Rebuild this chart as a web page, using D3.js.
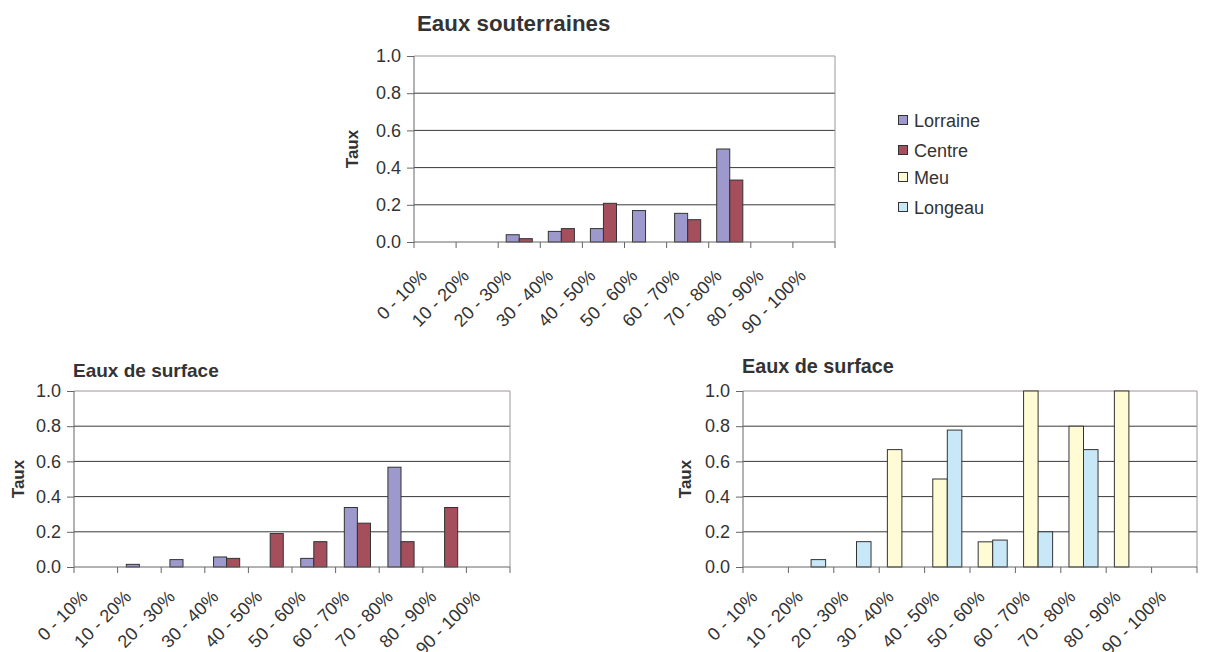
<!DOCTYPE html>
<html>
<head>
<meta charset="utf-8">
<script src="https://cdn.jsdelivr.net/npm/d3@7"></script>
<style>
  body { margin: 0; background: #fff; }
  svg text { font-family: "Liberation Sans", Arial, sans-serif; fill: #333; }
  .title { font-weight: bold; }
  .ylab { font-weight: bold; font-size: 17px; }
  .axis text { font-size: 18px; }
</style>
</head>
<body>
<svg id="chart" width="1210" height="652"></svg>
<script>
// categories (shared by all three charts)
var categories = ["0 - 10%", "10 - 20%", "20 - 30%", "30 - 40%", "40 - 50%",
                  "50 - 60%", "60 - 70%", "70 - 80%", "80 - 90%", "90 - 100%"];
var y_ticks = [0, 0.2, 0.4, 0.6, 0.8, 1.0];

// Eaux souterraines
var sout_lorraine = [0, 0, 0.039, 0.057, 0.072, 0.169, 0.154, 0.5, 0, 0];
var sout_centre   = [0, 0, 0.018, 0.072, 0.208, 0, 0.12, 0.333, 0, 0];

// Eaux de surface (regions)
var surf_lorraine = [0, 0.015, 0.042, 0.057, 0, 0.049, 0.338, 0.567, 0, 0];
var surf_centre   = [0, 0, 0, 0.049, 0.19, 0.144, 0.249, 0.144, 0.338, 0];

// Eaux de surface (bassins)
var surf_meu      = [0, 0, 0, 0.667, 0.5, 0.143, 1.0, 0.8, 1.0, 0];
var surf_longeau  = [0, 0.042, 0.144, 0, 0.778, 0.153, 0.2, 0.667, 0, 0];

var legend_names = ["Lorraine", "Centre", "Meu", "Longeau"];
var colours = {Lorraine: "#9e99cc", Centre: "#a54f5d", Meu: "#fffbd5", Longeau: "#c8e8f8"};

var svg = d3.select("#chart");

// draws one bar chart inside the rectangle given
function draw_chart(cfg){

	var g = svg.append("g")
		.attr("transform", "translate(" + cfg.x + "," + cfg.y + ")");

	var x = d3.scaleBand().domain(categories).range([0, cfg.w]);
	var y = d3.scaleLinear().domain([0, 1]).range([cfg.h, 0]);
	var pad = x.bandwidth() * cfg.gap;
	var x1 = d3.scaleBand().domain(cfg.series.map(function(s){ return s.name; }))
		.range([pad, x.bandwidth() - pad]);

	// gridlines
	g.selectAll(".grid").data(y_ticks.filter(function(t){ return t > 0 && t < 1; }))
		.enter().append("line")
		.attr("x1", 0).attr("x2", cfg.w)
		.attr("y1", function(d){ return y(d); }).attr("y2", function(d){ return y(d); })
		.attr("stroke", "#3a3a3a").attr("stroke-width", 1);

	// top and right border
	g.append("path")
		.attr("d", "M0," + y(1) + "H" + cfg.w + "V" + y(0))
		.attr("fill", "none").attr("stroke", "#a09696").attr("stroke-width", 1);

	// bars
	cfg.series.forEach(function(s){
		g.selectAll(".bar-" + s.name).data(s.values)
			.enter().append("rect")
			.attr("x", function(d, i){ return x(categories[i]) + x1(s.name); })
			.attr("width", x1.bandwidth())
			.attr("y", function(d){ return y(d); })
			.attr("height", function(d){ return y(0) - y(d); })
			.attr("fill", colours[s.name])
			.attr("stroke", function(d){ return d > 0 ? "#333" : "none"; })
			.attr("stroke-width", 1);
	});

	// y axis
	var yAxis = g.append("g").attr("class", "axis")
		.call(d3.axisLeft(y).tickValues(y_ticks).tickFormat(d3.format(".1f"))
			.tickSize(7).tickPadding(6));
	yAxis.selectAll("line, path").attr("stroke", "#666");
	yAxis.select(".domain").attr("d", "M0," + y(0) + "V" + y(1));

	// x axis: tick marks on band edges, labels turned 45 degrees
	var xAxis = g.append("g").attr("class", "axis")
		.attr("transform", "translate(0," + cfg.h + ")")
		.call(d3.axisBottom(x).tickSize(0).tickPadding(0));
	xAxis.select(".domain").attr("stroke", "#666").attr("d", "M0,0H" + cfg.w);
	xAxis.selectAll(".tick text")
		.attr("text-anchor", "end")
		.attr("dy", 0)
		.attr("transform", "translate(-7," + cfg.labdy + ") rotate(-45)");
	xAxis.selectAll(".edge").data(d3.range(categories.length + 1))
		.enter().append("line")
		.attr("x1", function(i){ return i * x.step(); })
		.attr("x2", function(i){ return i * x.step(); })
		.attr("y1", 0).attr("y2", 6)
		.attr("stroke", "#666");

	// title and y label
	svg.append("text").attr("class", "title")
		.attr("x", cfg.tx).attr("y", cfg.ty)
		.style("font-size", cfg.tsize + "px")
		.text(cfg.title);
	svg.append("text").attr("class", "ylab")
		.attr("text-anchor", "middle")
		.attr("transform", "translate(" + cfg.lx + "," + (cfg.y + cfg.h / 2) + ") rotate(-90)")
		.text("Taux");
}

draw_chart({x: 414, y: 56, w: 421, h: 186, gap: 0.19, labdy: 35,
	title: "Eaux souterraines", tx: 417, ty: 31, tsize: 22.3, lx: 358,
	series: [{name: "Lorraine", values: sout_lorraine}, {name: "Centre", values: sout_centre}]});

draw_chart({x: 74, y: 391, w: 436, h: 176, gap: 0.2, labdy: 31,
	title: "Eaux de surface", tx: 73, ty: 377, tsize: 19, lx: 24,
	series: [{name: "Lorraine", values: surf_lorraine}, {name: "Centre", values: surf_centre}]});

draw_chart({x: 743, y: 391, w: 454, h: 176, gap: 0.18, labdy: 31,
	title: "Eaux de surface", tx: 742, ty: 373, tsize: 19.8, lx: 691,
	series: [{name: "Meu", values: surf_meu}, {name: "Longeau", values: surf_longeau}]});

// legend
var legend = svg.append("g").attr("transform", "translate(898,120)");
var item = legend.selectAll(".item").data(legend_names)
	.enter().append("g")
	.attr("transform", function(d, i){ return "translate(0," + [0, 30, 57, 87][i] + ")"; });
item.append("rect")
	.attr("x", 0.5).attr("y", -4.5).attr("width", 9).attr("height", 9)
	.attr("fill", function(d){ return colours[d]; })
	.attr("stroke", "#333");
item.append("text")
	.attr("x", 16).attr("y", 6.5)
	.style("font-size", "18px")
	.text(function(d){ return d; });
</script>
</body>
</html>
